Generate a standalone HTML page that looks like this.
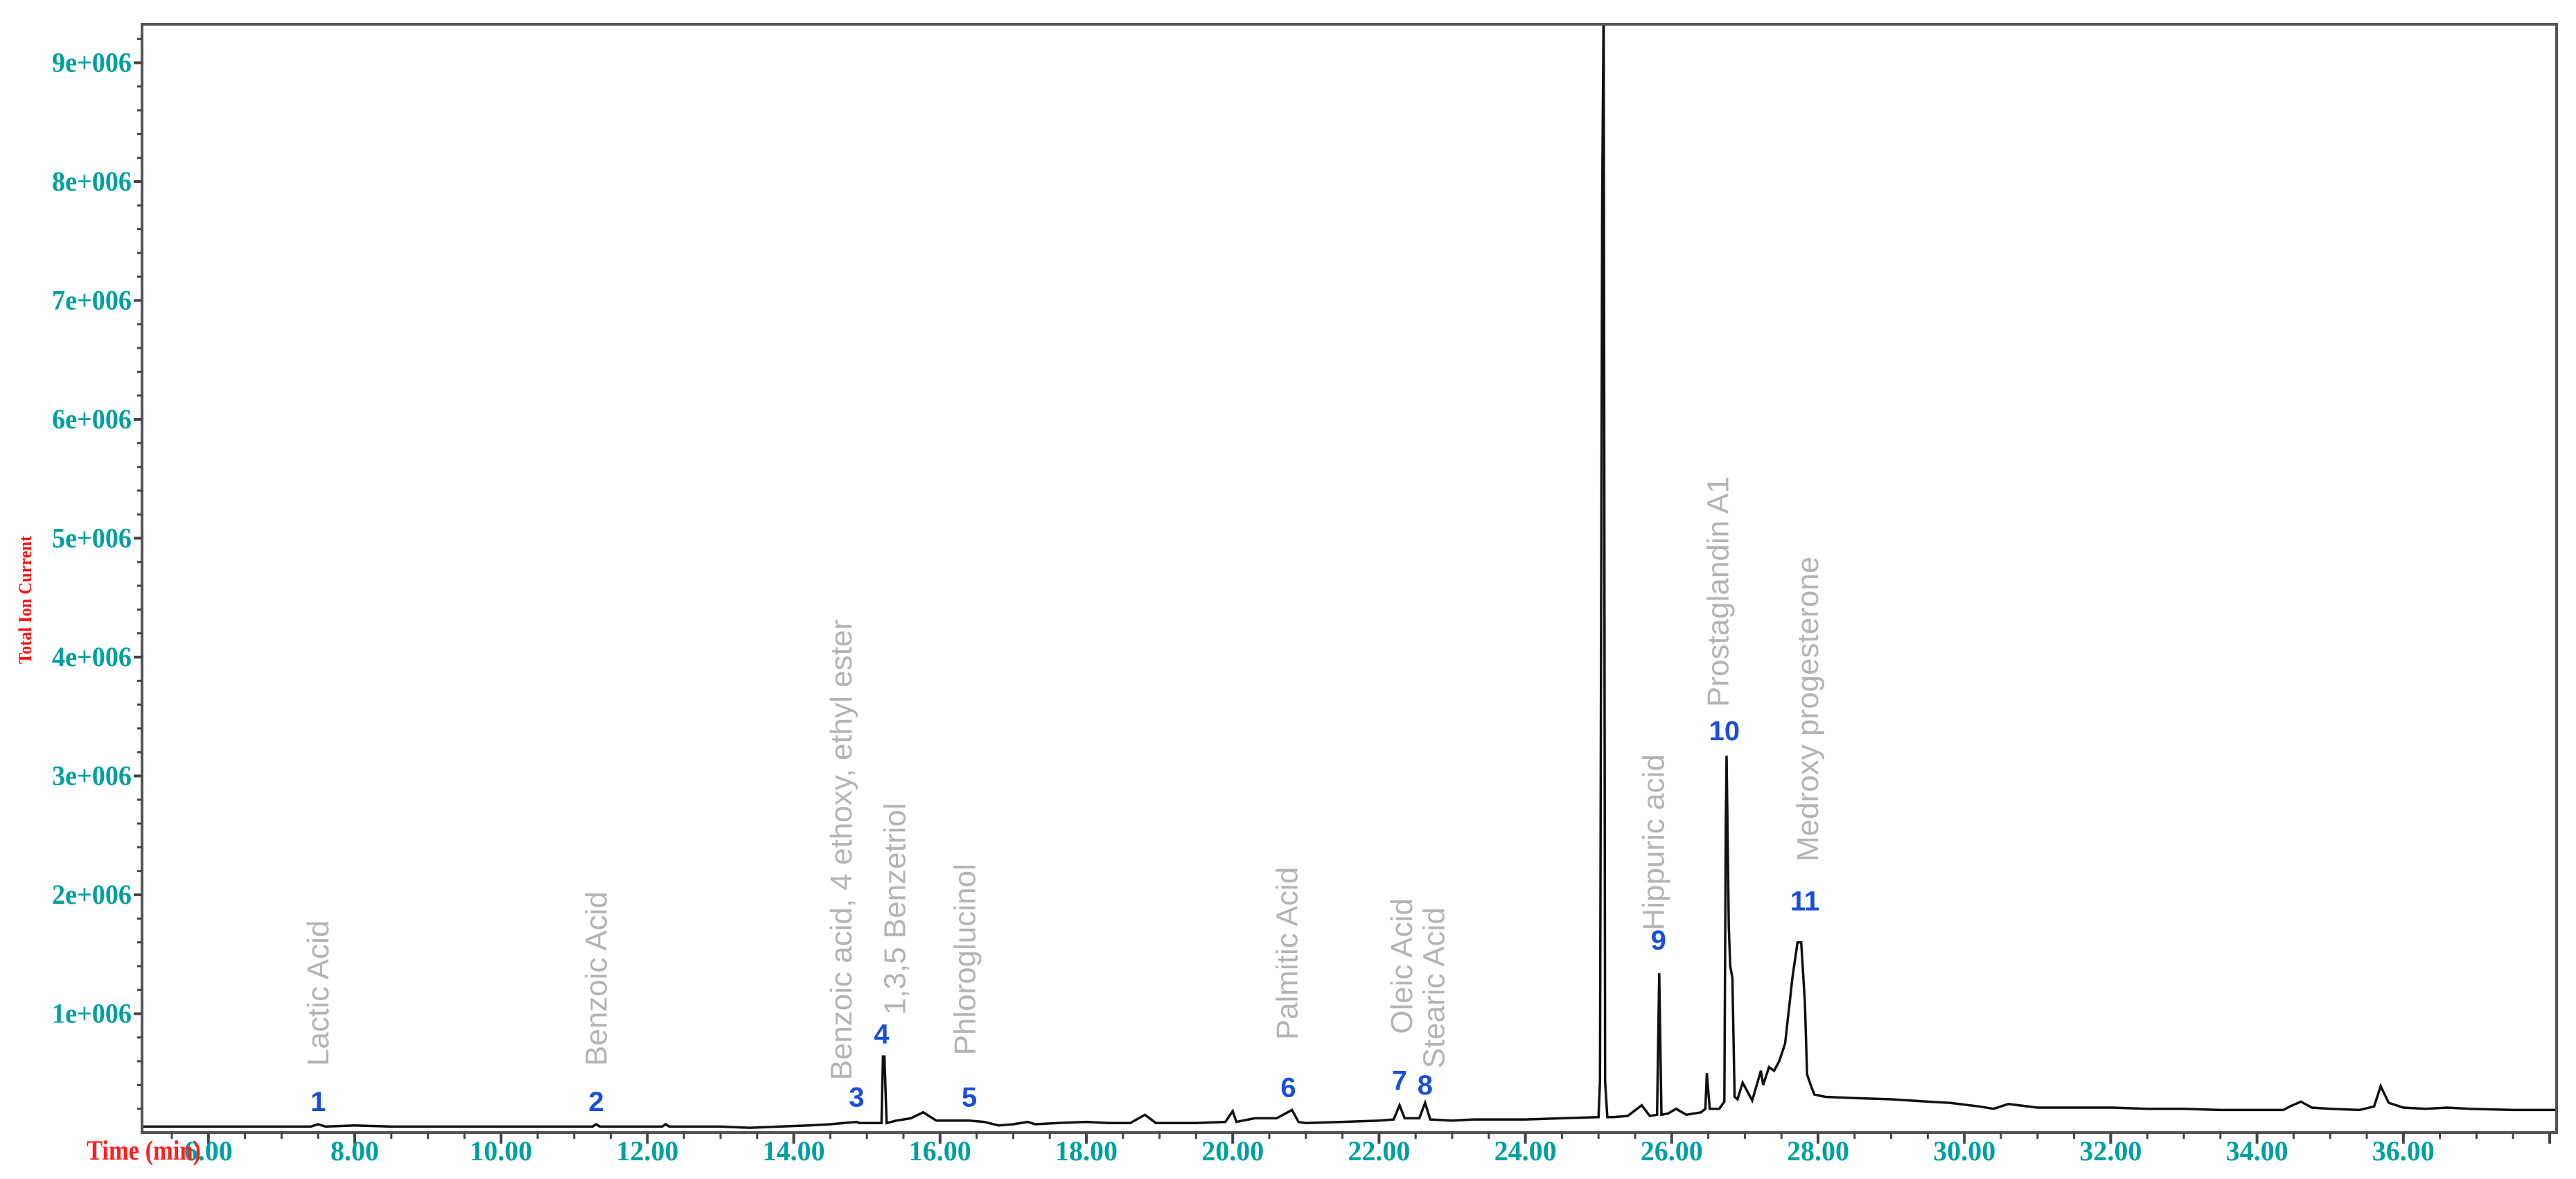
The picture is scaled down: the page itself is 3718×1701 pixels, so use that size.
<!DOCTYPE html>
<html><head><meta charset="utf-8"><style>
html,body{margin:0;padding:0;background:#fff;}
svg{display:block;}
</style></head><body>
<svg id="chart" width="3718" height="1701" viewBox="0 0 3718 1701" xmlns="http://www.w3.org/2000/svg">
<rect x="0" y="0" width="3718" height="1701" fill="#fff"/>
<g id="trace"></g>
<g id="axes"></g>
<g id="labels"></g>
</svg>
<script>
// ---- data (time in min, intensity in units of 1e6 counts) ----
const times = [
5.1,6.0,6.5,7.0,7.4,7.5,7.6,8.0,8.5,9.0,
9.5,10.0,10.5,11.0,11.25,11.3,11.35,12.0,12.2,12.25,
12.3,13.0,13.4,13.8,14.2,14.5,14.86,14.9,15.1,15.2,
15.22,15.24,15.27,15.4,15.6,15.77,15.95,16.1,16.4,16.6,
16.8,17.0,17.2,17.3,17.6,18.0,18.3,18.6,18.8,18.95,
19.1,19.5,19.9,20.0,20.05,20.3,20.6,20.81,20.9,21.0,
21.5,22.0,22.2,22.28,22.35,22.55,22.63,22.7,23.0,23.3,
23.7,24.0,24.5,25.0,25.02,25.05,25.07,25.09,25.12,25.2,
25.4,25.59,25.7,25.8,25.83,25.86,25.95,26.06,26.2,26.4,
26.46,26.48,26.52,26.65,26.72,26.74,26.75,26.78,26.8,26.83,
26.86,26.9,26.97,27.1,27.22,27.25,27.33,27.4,27.47,27.55,
27.65,27.72,27.77,27.82,27.85,27.9,27.95,28.1,28.5,29.0,
29.5,29.8,30.2,30.4,30.6,31.0,31.5,32.0,32.5,33.0,
33.5,34.0,34.36,34.45,34.6,34.75,35.0,35.4,35.6,35.69,
35.8,36.0,36.3,36.6,36.9,37.5,38.6];
const intensity = [
0.05,0.05,0.05,0.05,0.05,0.07,0.05,0.06,0.05,0.05,
0.05,0.05,0.05,0.05,0.05,0.07,0.05,0.05,0.05,0.07,
0.05,0.05,0.04,0.05,0.06,0.07,0.09,0.08,0.08,0.08,
0.64,0.64,0.08,0.1,0.12,0.17,0.1,0.1,0.1,0.09,
0.06,0.07,0.09,0.07,0.08,0.09,0.08,0.08,0.15,0.08,
0.08,0.08,0.09,0.18,0.09,0.12,0.12,0.19,0.09,0.08,
0.09,0.1,0.11,0.23,0.12,0.12,0.25,0.11,0.1,0.11,
0.11,0.11,0.12,0.13,0.43,7.85,9.5,0.43,0.13,0.13,
0.14,0.23,0.14,0.15,1.34,0.15,0.16,0.2,0.15,0.17,
0.2,0.5,0.2,0.2,0.26,2.6,3.17,1.73,1.4,1.3,
0.3,0.28,0.42,0.27,0.52,0.4,0.55,0.52,0.6,0.75,
1.3,1.6,1.6,1.1,0.49,0.4,0.32,0.3,0.29,0.28,
0.26,0.25,0.22,0.2,0.24,0.21,0.21,0.21,0.2,0.2,
0.19,0.19,0.19,0.22,0.26,0.21,0.2,0.19,0.22,0.39,
0.25,0.21,0.2,0.21,0.2,0.19,0.19];
const xTickLabels = ["6.00","8.00","10.00","12.00","14.00","16.00","18.00","20.00","22.00","24.00","26.00","28.00","30.00","32.00","34.00","36.00"];
const xTickValues = [6,8,10,12,14,16,18,20,22,24,26,28,30,32,34,36];
const yTickLabels = ["1e+006","2e+006","3e+006","4e+006","5e+006","6e+006","7e+006","8e+006","9e+006"];
const yTickValues = [1,2,3,4,5,6,7,8,9];
const peakNumbers = ["1","2","3","4","5","6","7","8","9","10","11"];
const peakTimes = [7.5,11.3,14.86,15.2,16.4,20.76,22.28,22.63,25.82,26.72,27.82];
const peakLabelValues = [0.18,0.18,0.22,0.75,0.22,0.3,0.36,0.32,1.54,3.3,1.87];
const compoundNames = ["Lactic Acid","Benzoic Acid","Benzoic acid, 4 ethoxy, ethyl ester","1,3,5 Benzetriol","Phloroglucinol","Palmitic Acid","Oleic Acid","Stearic Acid","Hippuric acid","Prostaglandin A1","Medroxy progesterone"];
const compoundTimes = [7.5,11.3,14.65,15.38,16.34,20.74,22.31,22.75,25.75,26.63,27.86];
const compoundBase = [0.56,0.56,0.44,0.99,0.65,0.78,0.83,0.54,1.7,3.58,2.28];

// ---- axis functions ----
const L=205, R=3690, T=35, B=1634;
const xScale = t => 512 + (t-8)*105.6;
const yScale = v => B - v*171.5;
const NS="http://www.w3.org/2000/svg";
function mk(tag, attrs, parent){const e=document.createElementNS(NS,tag);for(const k in attrs)e.setAttribute(k,attrs[k]);parent.appendChild(e);return e;}

const axes=document.getElementById('axes');
const frame=mk('rect',{x:L,y:T,width:R-L,height:B-T,fill:'none',stroke:'#555',"stroke-width":4},axes);



for(let t=5.5;t<=38.5;t+=0.5){
  const major = Math.abs(t/2-Math.round(t/2))<1e-6;
  const x=xScale(t); if(x<L||x>R) continue;
  const tk=mk('line',{x1:x,x2:x,y1:B,y2:B+(major?16:9),stroke:'#444',"stroke-width":major?4:3},axes);
  
  
}
xTickValues.forEach((v,i)=>{
  const tx=mk('text',{x:xScale(v),y:1674,"text-anchor":"middle","font-family":"Liberation Serif, serif","font-weight":"bold","font-size":40,fill:"#00a0a0"},axes);
  tx.textContent=xTickLabels[i];
  
  
});
for(let v=0.2;v<9.32;v+=0.2){
  const major=Math.abs(v-Math.round(v))<1e-6;
  const y=yScale(v);
  const tk=mk('line',{x1:L-(major?12:7),x2:L,y1:y,y2:y,stroke:'#444',"stroke-width":major?4:3},axes);
  
  
}
yTickValues.forEach((v,i)=>{
  const tx=mk('text',{x:190,y:yScale(v)+13,"text-anchor":"end","font-family":"Liberation Serif, serif","font-weight":"bold","font-size":40,fill:"#00a0a0",textLength:115,lengthAdjust:"spacingAndGlyphs"},axes);
  tx.textContent=yTickLabels[i];
  
  
});
const xt=mk('text',{x:125,y:1673,"font-family":"Liberation Serif, serif","font-weight":"bold","font-size":40,fill:"#ff2020",textLength:165,lengthAdjust:"spacingAndGlyphs"},axes);
xt.textContent="Time (min)";


const yt=mk('text',{x:0,y:0,"font-family":"Liberation Serif, serif","font-weight":"bold","font-size":26,fill:"#ff1010",textLength:185,lengthAdjust:"spacingAndGlyphs",transform:"translate(45,958) rotate(-90)"},axes);
yt.textContent="Total Ion Current";



const trace=document.getElementById('trace');
const clip=mk('clipPath',{id:'plotclip'},trace);
mk('rect',{x:L,y:T,width:R-L,height:B-T},clip);
let d='';
times.forEach((t,i)=>{d+=(i?'L':'M')+xScale(t).toFixed(1)+','+yScale(intensity[i]).toFixed(1);});
const path=mk('path',{d:d,fill:'none',stroke:'#111',"stroke-width":3.5,"stroke-linejoin":"miter","clip-path":"url(#plotclip)"},trace);



const labels=document.getElementById('labels');
compoundNames.forEach((n,i)=>{
  const x=xScale(compoundTimes[i])+15, y=yScale(compoundBase[i]);
  const tx=mk('text',{x:0,y:0,"font-family":"Liberation Sans, sans-serif","font-size":44,fill:"#b4b4b4",transform:`translate(${x.toFixed(1)},${y.toFixed(1)}) rotate(-90)`},labels);
  tx.textContent=n;
  
  
});
peakNumbers.forEach((n,i)=>{
  const tx=mk('text',{x:xScale(peakTimes[i]),y:yScale(peakLabelValues[i]),"text-anchor":"middle","font-family":"Liberation Sans, sans-serif","font-size":40,"font-weight":"bold",fill:"#1a4fd6"},labels);
  tx.textContent=n;
  
  
});
</script>
</body></html>
